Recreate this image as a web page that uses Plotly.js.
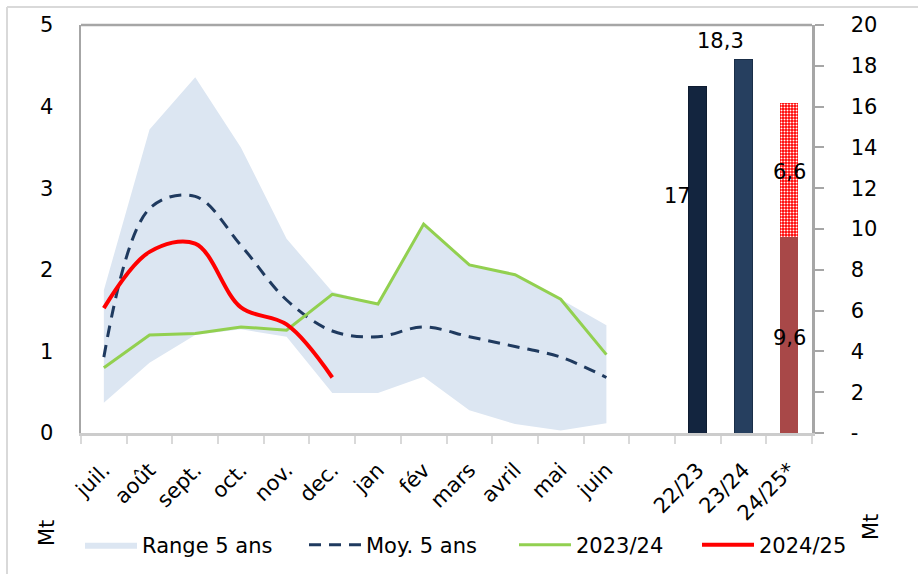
<!DOCTYPE html>
<html><head><meta charset="utf-8">
<script src="https://cdn.plot.ly/plotly-3.0.1.min.js"></script>
<style>html,body{margin:0;padding:0;background:#fff}#chart{width:918px;height:574px}</style>
</head><body><div id="chart"></div>
<script>
// ---- data ----
const months = ["juil.","août","sept.","oct.","nov.","dec.","jan","fév","mars","avril","mai","juin"];
const gapCat = [" "];
const seasons = ["22/23","23/24","24/25*"];
const rangeLow  = [0.37, 0.86, 1.20, 1.27, 1.18, 0.49, 0.49, 0.69, 0.28, 0.11, 0.03, 0.12];
const rangeHigh = [1.75, 3.72, 4.36, 3.50, 2.38, 1.73, 1.58, 2.56, 2.06, 1.94, 1.64, 1.32];
const avg5      = [0.93, 2.75, 2.90, 2.30, 1.63, 1.25, 1.18, 1.30, 1.18, 1.06, 0.93, 0.68];
const y2324     = [0.80, 1.20, 1.22, 1.30, 1.26, 1.70, 1.58, 2.56, 2.06, 1.94, 1.64, 0.96];
const y2425     = [1.53, 2.22, 2.32, 1.54, 1.33, 0.68];
const pastTotals = [17, 18.3];
const realised = [9.6];
const forecast = [6.6];
const leftTicks = [0,1,2,3,4,5];
const rightTicks = [0,2,4,6,8,10,12,14,16,18,20];
const rightTickText = ["-","2","4","6","8","10","12","14","16","18","20"];

// ---- layout helpers ----
const FONT = "DejaVu Sans";
const FS = 21;
const W = 918, H = 574, M = {l:81, r:106, t:25, b:141};
const PW = W - M.l - M.r, PH = H - M.t - M.b;
const px = x => (x - M.l) / PW;
const py = y => (H - M.b - y) / PH;
const fmt = v => String(v).replace('.', ',');

const traces = [
  {x: months, y: rangeLow, mode: 'lines', line: {width: 0, color: 'rgba(0,0,0,0)'},
   showlegend: false, hoverinfo: 'skip'},
  {x: months, y: rangeHigh, mode: 'lines', fill: 'tonexty', fillcolor: '#DCE6F2',
   line: {width: 0, color: 'rgba(0,0,0,0)'}, name: 'Range 5 ans', legend: 'legend'},
  {x: months, y: avg5, mode: 'lines', line: {color: '#1F3A5F', width: 3, dash: '12px,8px', shape: 'spline'},
   name: 'Moy. 5 ans', legend: 'legend2'},
  {x: months, y: y2324, mode: 'lines', line: {color: '#92D050', width: 3},
   name: '2023/24', legend: 'legend3'},
  {x: months.slice(0, y2425.length), y: y2425, mode: 'lines', line: {color: '#FF0000', width: 4, shape: 'spline'},
   name: '2024/25', legend: 'legend4'},
  {type: 'bar', x: gapCat.concat(seasons.slice(0, 2)), y: [null].concat(pastTotals), yaxis: 'y2', width: 0.4,
   marker: {color: ['#ffffff', '#13253F', '#263F5F'], line: {color: ['#ffffff', '#0E1C30', '#1A2E48'], width: 1}},
   showlegend: false},
  {type: 'bar', x: seasons.slice(2), y: realised, yaxis: 'y2', width: 0.4,
   marker: {color: '#A84848', line: {width: 0}}, showlegend: false},
  {type: 'bar', x: seasons.slice(2), y: forecast, yaxis: 'y2', width: 0.4,
   marker: {color: '#FF0000', line: {width: 0},
            pattern: {shape: '.', fgcolor: '#FFFFFF', bgcolor: '#FF0000', size: 3, solidity: 0.35, fillmode: 'replace'}},
   showlegend: false}
];

const tf = {family: FONT, size: FS, color: '#000'};
function leg(xpx) {
  return {orientation: 'h', xref: 'container', yref: 'container',
          x: xpx / W, y: (H - 545) / H, xanchor: 'left', yanchor: 'middle',
          font: tf, bgcolor: 'rgba(0,0,0,0)', itemwidth: 52, borderwidth: 0};
}

const annotations = [
  {x: seasons[0], y: pastTotals[0], xref: 'x', yref: 'y2', text: fmt(pastTotals[0]), showarrow: false, xshift: -20, yshift: -110, font: tf},
  {x: seasons[1], y: pastTotals[1], xref: 'x', yref: 'y2', text: fmt(pastTotals[1]), showarrow: false, xshift: -23, yshift: 19, font: tf},
  {x: seasons[2], y: realised[0] / 2, xref: 'x', yref: 'y2', text: fmt(realised[0]), showarrow: false, yshift: -3, font: tf},
  {x: seasons[2], y: realised[0] + forecast[0] / 2, xref: 'x', yref: 'y2', text: fmt(forecast[0]), showarrow: false, yshift: -2, font: tf},
  {x: px(33), y: py(548), xref: 'paper', yref: 'paper', text: 'Mt', textangle: -90, showarrow: false, font: tf},
  {x: px(885), y: py(542), xref: 'paper', yref: 'paper', text: 'Mt', textangle: -90, showarrow: false, font: tf}
];

const shapes = [
  {type: 'line', xref: 'paper', yref: 'paper', x0: 0, x1: 1, y0: 1, y1: 1, line: {color: '#A6A6A6', width: 2.5}},
  {type: 'line', xref: 'paper', yref: 'paper', x0: px(7), x1: px(930), y0: py(7), y1: py(7), line: {color: '#D9D9D9', width: 2}},
  {type: 'line', xref: 'paper', yref: 'paper', x0: px(7), x1: px(7), y0: py(7), y1: py(590), line: {color: '#D9D9D9', width: 2}}
];

const layout = {
  width: W, height: H,
  margin: {l: M.l, r: M.r, t: M.t, b: M.b, pad: 0},
  paper_bgcolor: '#fff', plot_bgcolor: '#fff',
  font: tf,
  barmode: 'stack',
  showlegend: true,
  xaxis: {type: 'category', categoryorder: 'array', categoryarray: months.concat(gapCat, seasons),
          range: [-0.5, 15.5], tickson: 'boundaries', ticks: 'outside', ticklen: 8, tickwidth: 2,
          tickcolor: '#D9D9D9', showline: true, linecolor: '#CCCCCC', linewidth: 2.5,
          tickangle: -45, tickfont: tf, ticklabelstandoff: 14, showgrid: false, zeroline: false,
          automargin: false, fixedrange: true},
  yaxis: {range: [0, 5], tickvals: leftTicks, ticks: '', showline: true, linecolor: '#A6A6A6', linewidth: 2.5,
          showgrid: false, zeroline: false, ticklabelstandoff: 21, tickfont: tf, automargin: false, fixedrange: true},
  yaxis2: {overlaying: 'y', side: 'right', range: [0, 20], tickvals: rightTicks, ticktext: rightTickText,
           ticks: 'outside', ticklen: 9, tickwidth: 2, tickcolor: '#A6A6A6', showline: true, linecolor: '#A6A6A6',
           linewidth: 2.5, showgrid: false, zeroline: false, ticklabelstandoff: 23, tickfont: tf,
           automargin: false, fixedrange: true},
  legend: leg(80),
  legend2: leg(304),
  legend3: leg(514),
  legend4: leg(697),
  annotations: annotations,
  shapes: shapes
};

Plotly.newPlot('chart', traces, layout, {displayModeBar: false, staticPlot: true});
</script>
</body></html>
